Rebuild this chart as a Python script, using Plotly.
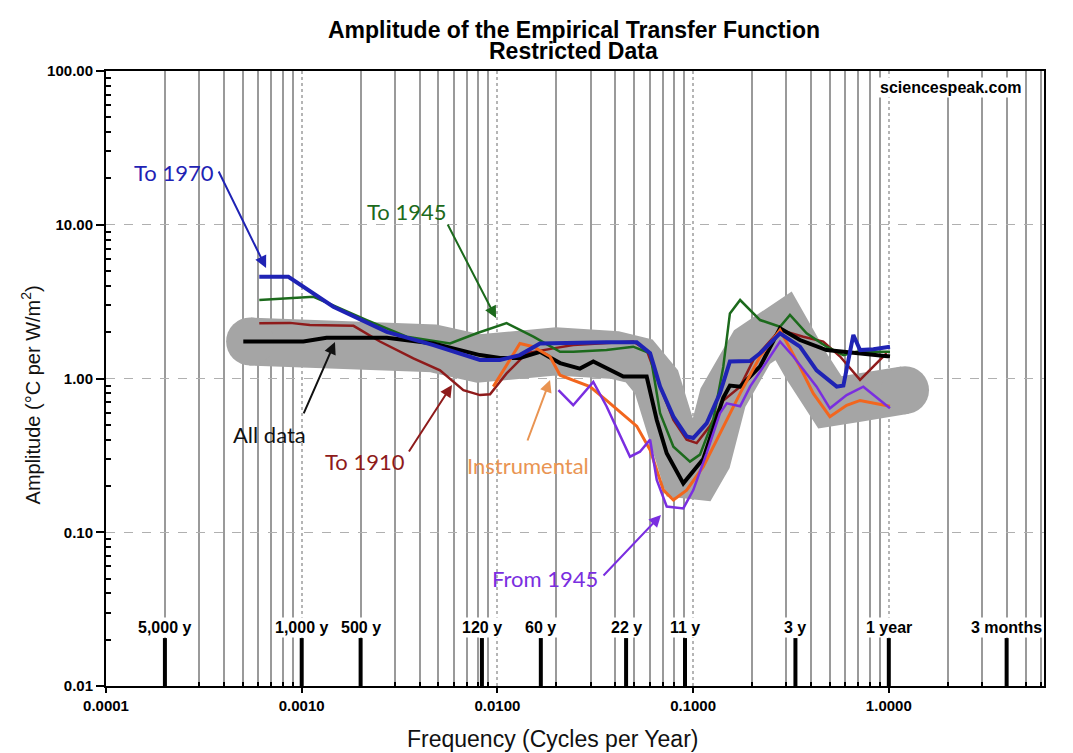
import numpy as np
import plotly.graph_objects as go

# ---- data (frequency in cycles/yr, amplitude in degC per W/m2)
band_f = [0.000545, 0.0015, 0.0047, 0.008, 0.013, 0.02, 0.04, 0.053, 0.065, 0.08, 0.096,
          0.118, 0.142, 0.2, 0.29, 0.38, 0.5, 0.7, 1.21]
band_a = [1.74, 1.78, 1.57, 1.35, 1.45, 1.5, 1.42, 1.3, 0.95, 0.45, 0.19,
          0.3, 0.75, 1.6, 2.2, 1.2, 0.7, 0.75, 0.84]

to1970_f = [0.000607, 0.000855, 0.00145, 0.00272, 0.00471, 0.00815, 0.0103, 0.0130, 0.0165,
            0.0244, 0.0361, 0.0515, 0.0603, 0.0678, 0.0793, 0.0927, 0.1002, 0.1172, 0.1371,
            0.1542, 0.1955, 0.2199, 0.2780, 0.3516, 0.4276, 0.542, 0.586, 0.659, 0.713,
            0.834, 1.014]
to1970_a = [4.59, 4.59, 2.93, 2.01, 1.65, 1.32, 1.32, 1.42, 1.69,
            1.71, 1.72, 1.72, 1.46, 0.885, 0.565, 0.42, 0.41, 0.51, 0.80,
            1.29, 1.30, 1.46, 1.97, 1.61, 1.13, 0.885, 0.90, 1.92, 1.53,
            1.55, 1.61]

to1945_f = [0.000607, 0.00115, 0.00215, 0.00344, 0.00573, 0.00784, 0.01114, 0.01527, 0.0209,
            0.0244, 0.0361, 0.0494, 0.0603, 0.0678, 0.0793, 0.0964, 0.1084, 0.1268, 0.1426,
            0.1542, 0.1739, 0.2199, 0.2780, 0.3126, 0.3802, 0.4809, 0.586, 0.686, 1.014]
to1945_a = [3.24, 3.40, 2.40, 1.87, 1.69, 1.97, 2.29, 1.87, 1.49,
            1.49, 1.53, 1.61, 1.46, 0.594, 0.36, 0.288, 0.32, 0.537, 1.19,
            2.65, 3.24, 2.40, 2.17, 2.59, 1.97, 1.61, 1.42, 1.49, 1.49]

to1910_f = [0.000607, 0.000871, 0.0011, 0.00184, 0.00251, 0.00372, 0.00509, 0.0067, 0.00815,
            0.00917, 0.01114, 0.01411, 0.0193, 0.0244, 0.0494, 0.0579, 0.0678, 0.0793, 0.0927,
            0.1043, 0.1219, 0.1426, 0.1739, 0.2033, 0.2780, 0.3656, 0.4624, 0.564, 0.713, 0.975]
to1910_a = [2.29, 2.30, 2.23, 2.20, 1.74, 1.35, 1.13, 0.84, 0.78,
            0.79, 1.08, 1.46, 1.57, 1.65, 1.74, 1.53, 0.885, 0.537, 0.40,
            0.38, 0.49, 0.72, 0.885, 1.32, 2.07, 1.87, 1.74, 1.39, 0.98, 1.46]

alldata_f = [0.000503, 0.00102, 0.00134, 0.00272, 0.00471, 0.00815, 0.0103, 0.01303, 0.0165,
             0.0209, 0.0264, 0.0309, 0.0440, 0.0579, 0.0652, 0.0733, 0.0891, 0.1127, 0.1426,
             0.1542, 0.1739, 0.2199, 0.2780, 0.3516, 0.4809, 0.713, 1.014]
alldata_a = [1.74, 1.74, 1.84, 1.84, 1.69, 1.42, 1.36, 1.36, 1.49,
             1.26, 1.16, 1.29, 1.03, 1.03, 0.537, 0.326, 0.208, 0.30, 0.75,
             0.90, 0.885, 1.20, 2.12, 1.78, 1.53, 1.46, 1.39]

instr_f = [0.00953, 0.01303, 0.01527, 0.01857, 0.0209, 0.0297, 0.0361, 0.0515, 0.0603, 0.0705,
           0.0793, 0.0927, 0.1127, 0.1371, 0.1739, 0.2199, 0.2780, 0.3516, 0.4112, 0.5000,
           0.609, 0.713, 1.014]
instr_a = [0.885, 1.69, 1.61, 1.39, 1.05, 0.885, 0.72, 0.49, 0.343, 0.188,
           0.162, 0.188, 0.267, 0.44, 0.80, 1.39, 2.07, 1.19, 0.80, 0.565,
           0.67, 0.72, 0.66]

from1945_f = [0.0205, 0.0244, 0.0309, 0.0361, 0.0476, 0.0535, 0.0603, 0.0652, 0.0733, 0.0891,
              0.1002, 0.1172, 0.1371, 0.1486, 0.1739, 0.1955, 0.2780, 0.3251, 0.4276, 0.5000,
              0.609, 0.741, 1.014]
from1945_a = [0.84, 0.67, 0.95, 0.66, 0.31, 0.334, 0.40, 0.219, 0.147, 0.143,
              0.188, 0.326, 0.594, 0.69, 0.66, 0.885, 1.74, 1.39, 0.885, 0.64,
              0.78, 0.885, 0.64]

# reference periods marked along the bottom
period_years = [5000, 1000, 500, 120, 60, 22, 11, 3, 1, 0.25]
period_labels = ["5,000 y", "1,000 y", "500 y", "120 y", "60 y", "22 y", "11 y", "3 y",
                 "1 year", "3 months"]

x_ticks = [0.0001, 0.001, 0.01, 0.1, 1]
x_ticktext = ["0.0001", "0.0010", "0.0100", "0.1000", "1.0000"]
y_ticks = [0.01, 0.1, 1, 10, 100]
y_ticktext = ["0.01", "0.10", "1.00", "10.00", "100.00"]

series = [
    ("To 1910", to1910_f, to1910_a, "#8e1b1b", 2.5),
    ("To 1945", to1945_f, to1945_a, "#1c6a1c", 2.5),
    ("All data", alldata_f, alldata_a, "#000000", 4),
    ("Instrumental", instr_f, instr_a, "#f2661e", 3),
    ("From 1945", from1945_f, from1945_a, "#7a2ee0", 2.5),
    ("To 1970", to1970_f, to1970_a, "#1f23b4", 4),
]

fig = go.Figure()

# thick grey band under everything, round ends drawn with markers
band_w = 48
fig.add_trace(go.Scatter(x=band_f, y=band_a, mode="lines", line=dict(color="#a5a5a5", width=band_w),
                         hoverinfo="skip", showlegend=False))
fig.add_trace(go.Scatter(x=[band_f[0], band_f[-1]], y=[band_a[0], band_a[-1]], mode="markers",
                         marker=dict(color="#a5a5a5", size=band_w), hoverinfo="skip", showlegend=False))

for name, f, a, col, w in series:
    fig.add_trace(go.Scatter(x=f, y=a, mode="lines", name=name,
                             line=dict(color=col, width=w), showlegend=False))

# black period markers
bar_top = 0.0205
bx, by = [], []
for p in period_years:
    bx += [1.0 / p, 1.0 / p, None]
    by += [0.01, bar_top, None]
fig.add_trace(go.Scatter(x=bx, y=by, mode="lines", line=dict(color="black", width=4),
                         hoverinfo="skip", showlegend=False))

annotations = []
for p, lab in zip(period_years, period_labels):
    annotations.append(dict(x=np.log10(1.0 / p), y=np.log10(bar_top), xref="x", yref="y", yanchor="bottom",
                            text=lab, showarrow=False, bgcolor="white", borderpad=1,
                            font=dict(family="Liberation Sans, Arial", size=16, color="black", weight="bold")))

# labelled arrows: (text, colour, text pos, tail, head) in log10 units
arrows = [
    ("To 1970", "#1f23b4", (-3.653, 1.343), (-3.428, 1.356), (-3.182, 0.719)),
    ("To 1945", "#1c6a1c", (-2.462, 1.083), (-2.258, 1.011), (-2.007, 0.393)),
    ("All data", "#111111", (-3.167, -0.367), (-2.993, -0.237), (-2.830, 0.237)),
    ("To 1910", "#8e1b1b", (-2.677, -0.537), (-2.457, -0.485), (-2.232, -0.042)),
    ("Instrumental", "#e99452", (-1.844, -0.563), (-1.849, -0.413), (-1.731, -0.010)),
    ("From 1945", "#7a2ee0", (-1.757, -1.298), (-1.465, -1.291), (-1.164, -0.888)),
]
for txt, col, tpos, tail, head in arrows:
    annotations.append(dict(x=tpos[0], y=tpos[1], xref="x", yref="y", text=txt, showarrow=False,
                            font=dict(family="Lato, Noto Sans", size=22, color=col)))
    annotations.append(dict(x=head[0], y=head[1], ax=tail[0], ay=tail[1], xref="x", yref="y",
                            axref="x", ayref="y", text="", showarrow=True, arrowhead=2,
                            arrowsize=1.2, arrowwidth=2, arrowcolor=col))

annotations.append(dict(x=0.8998, y=0.9724, xref="paper", yref="paper", xanchor="center", yanchor="middle",
                        text="sciencespeak.com", showarrow=False, bgcolor="white",
                        font=dict(family="Liberation Sans, Arial", size=16, color="black", weight="bold")))

# titles (plot area spans 106..1044 x 71..686 on screen)
title_font = dict(family="Liberation Sans, Arial", size=23, color="black", weight="bold")
annotations.append(dict(x=0.4985, y=(686 - 30) / 615, xref="paper", yref="paper", xanchor="center",
                        yanchor="middle", text="Amplitude of the Empirical Transfer Function",
                        showarrow=False, font=title_font))
annotations.append(dict(x=0.4985, y=(686 - 51) / 615, xref="paper", yref="paper", xanchor="center",
                        yanchor="middle", text="Restricted Data", showarrow=False, font=title_font))
annotations.append(dict(x=0.4765, y=(686 - 739) / 615, xref="paper", yref="paper", xanchor="center",
                        yanchor="middle", text="Frequency (Cycles per Year)", showarrow=False,
                        font=dict(family="Liberation Sans, Arial", size=23, color="#111111")))
annotations.append(dict(x=-0.080, y=0.474, xref="paper", yref="paper", xanchor="center", yanchor="middle",
                        textangle=-90, text="Amplitude (°C per W/m<sup>2</sup>)", showarrow=False,
                        font=dict(family="Liberation Sans, Arial", size=20, color="#111111")))

minor_x = [m * 10.0 ** e for e in range(-4, 1) for m in range(2, 10)]
minor_y = [m * 10.0 ** e for e in range(-2, 2) for m in range(2, 10)]
tick_font = dict(family="Liberation Sans, Arial", size=15, color="black", weight="bold")

fig.update_layout(
    width=1073, height=753,
    # the page body adds 8px on the left/top, margins compensate
    margin=dict(l=98, r=37, t=63, b=75),
    paper_bgcolor="white", plot_bgcolor="white",
    annotations=annotations,
    xaxis=dict(type="log", range=[-4, 0.793], tickmode="array", tickvals=x_ticks, ticktext=x_ticktext,
               tickfont=tick_font, ticks="outside", ticklen=5, tickwidth=2, tickcolor="black",
               showline=True, linecolor="black", linewidth=2, mirror=True,
               showgrid=True, gridcolor="#b5b5b5", gridwidth=1.5, griddash="dot", zeroline=False,
               minor=dict(tickmode="array", tickvals=minor_x, ticks="inside", ticklen=4, tickcolor="black",
                          showgrid=True, gridcolor="#9a9a9a", gridwidth=2, griddash="solid")),
    yaxis=dict(type="log", range=[-2, 2], tickmode="array", tickvals=y_ticks, ticktext=y_ticktext,
               tickfont=tick_font, ticks="outside", ticklen=8, tickwidth=2, tickcolor="black",
               showline=True, linecolor="black", linewidth=2, mirror=True,
               showgrid=True, gridcolor="#b0b0b0", gridwidth=1, griddash="dash", zeroline=False,
               minor=dict(tickmode="array", tickvals=minor_y, ticks="inside", ticklen=5, tickcolor="black",
                          showgrid=False)),
)

fig.write_html("out.html")
